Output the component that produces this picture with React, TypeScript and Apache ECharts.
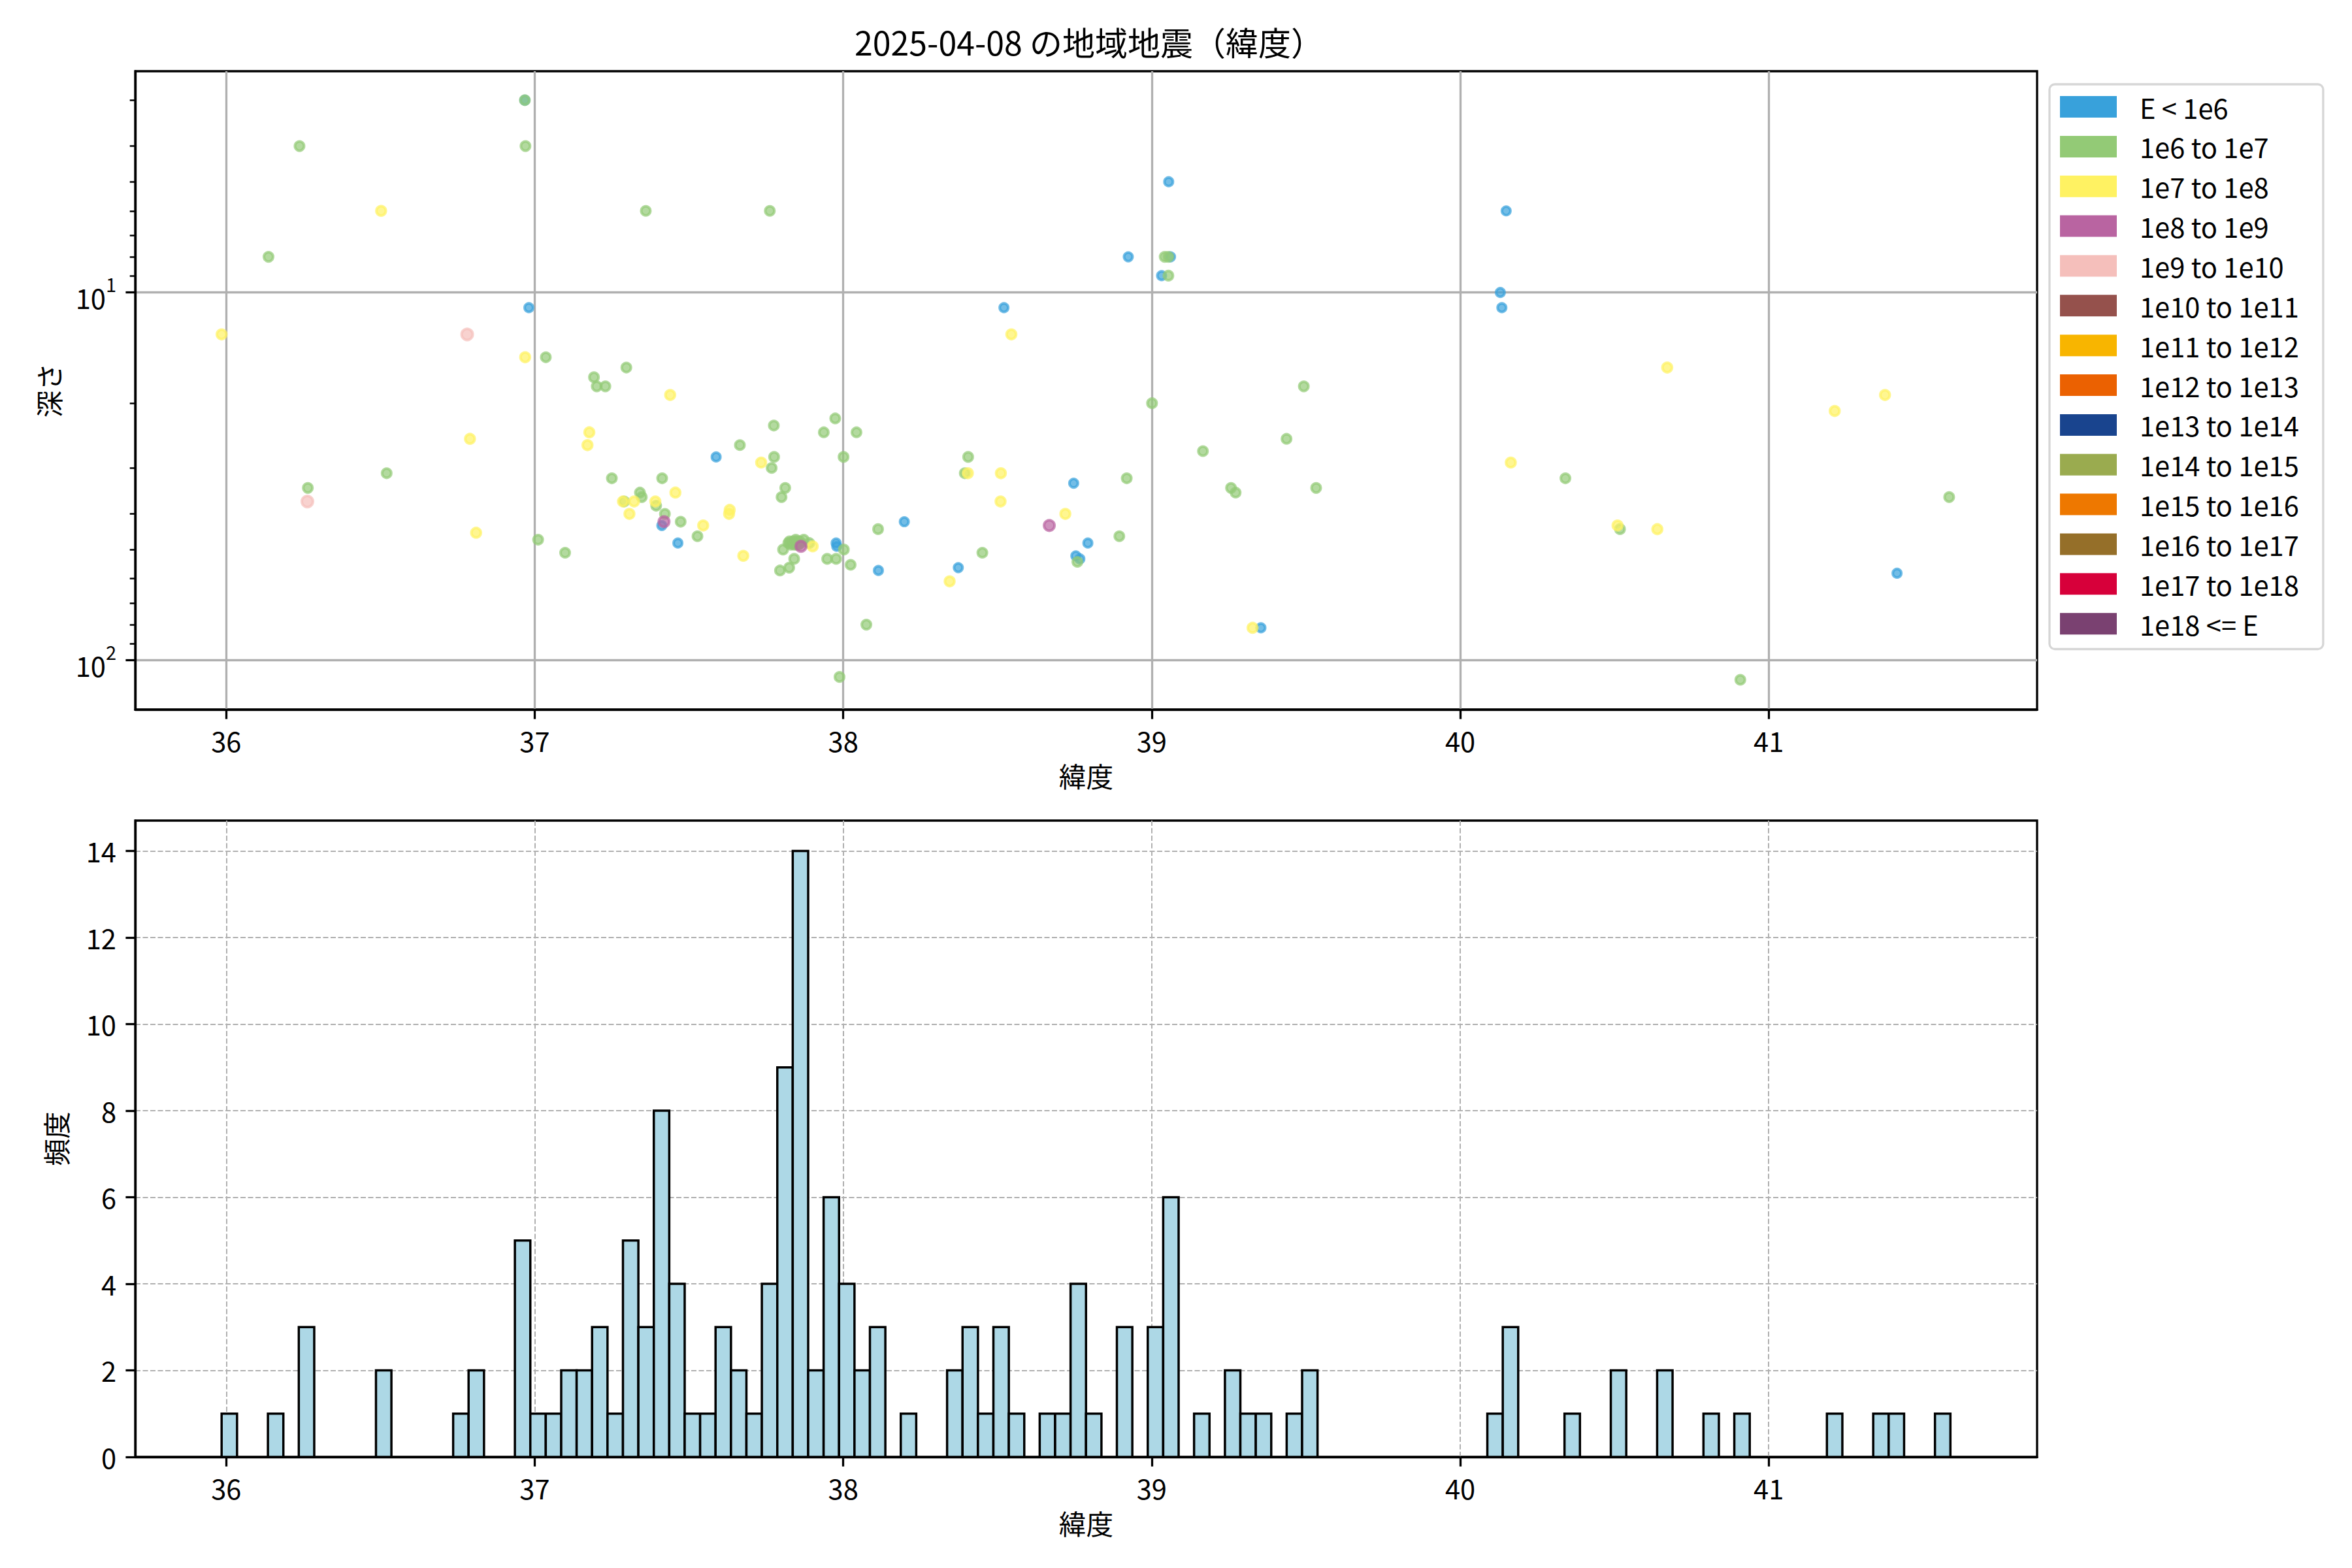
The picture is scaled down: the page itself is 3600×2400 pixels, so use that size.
import React, { useEffect, useRef } from "react";
import * as echarts from "echarts";

const FONT = '"Noto Sans CJK JP", "Noto Sans", sans-serif';
const FS = 41.67;

const TITLE = "2025-04-08 の地域地震（緯度）";
const X_NAME = "緯度";
const Y_NAME_TOP = "深さ";
const Y_NAME_BOTTOM = "頻度";

const CLASS_NAMES = [
  "E < 1e6", "1e6 to 1e7", "1e7 to 1e8", "1e8 to 1e9", "1e9 to 1e10",
  "1e10 to 1e11", "1e11 to 1e12", "1e12 to 1e13", "1e13 to 1e14", "1e14 to 1e15",
  "1e15 to 1e16", "1e16 to 1e17", "1e17 to 1e18", "1e18 <= E",
];
const CLASS_COLORS = [
  "#38a1db", "#93ca76", "#fff262", "#b964a1", "#f5bfbb",
  "#95514c", "#f8b500", "#eb6101", "#19448e", "#9aab4f",
  "#ee7800", "#956f29", "#d7003a", "#7a4171",
];
const CLASS_SIZES = [13, 14, 14.5, 16, 17, 18, 18, 18, 18, 18, 18, 18, 18, 18];

// [latitude, depth]
const E_LT_1E6 = [
  [36.968, 3.0], [36.981, 11], [37.412, 43], [37.464, 48], [37.588, 28],
  [37.977, 48], [37.979, 49], [38.114, 57], [38.198, 42], [38.373, 56],
  [38.521, 11], [38.747, 33], [38.754, 52], [38.767, 53], [38.793, 48],
  [38.924, 8], [39.032, 9], [39.055, 5], [39.061, 8], [39.354, 81.6],
  [40.13, 10], [40.135, 11], [40.149, 6], [41.416, 58],
];
const E_1E6_1E7 = [
  [36.137, 8], [36.2375, 4], [36.2645, 34], [36.52, 31], [36.968, 3.0], [36.97, 4],
  [37.011, 47], [37.036, 15], [37.0985, 51], [37.192, 17], [37.201, 18], [37.229, 18],
  [37.25, 32], [37.29, 37], [37.297, 16], [37.341, 35], [37.347, 36], [37.36, 6],
  [37.3936, 38], [37.413, 32], [37.422, 40], [37.473, 42], [37.5275, 46], [37.665, 26],
  [37.762, 6], [37.768, 30], [37.775, 23], [37.776, 28], [37.795, 57], [37.8, 36],
  [37.805, 50], [37.812, 34], [37.822, 48], [37.825, 56], [37.826, 47.5], [37.83, 48.5],
  [37.834, 48], [37.838, 47.5], [37.841, 48.5], [37.841, 53], [37.844, 48], [37.846, 47],
  [37.849, 48.5], [37.851, 48], [37.853, 47.5], [37.855, 48.5], [37.857, 48], [37.859, 47.5],
  [37.861, 48], [37.872, 47], [37.89, 48], [37.937, 24], [37.948, 53], [37.974, 22],
  [37.977, 53], [37.988, 111], [38.001, 28], [38.002, 50], [38.024, 55], [38.043, 24],
  [38.075, 80], [38.113, 44], [38.394, 31], [38.405, 28], [38.451, 51], [38.759, 54],
  [38.895, 46], [38.919, 32], [39.001, 20], [39.042, 8], [39.054, 8], [39.054, 9],
  [39.166, 27], [39.257, 34], [39.272, 35], [39.437, 25], [39.493, 18], [39.533, 34],
  [40.341, 32], [40.518, 44], [40.908, 113], [41.585, 36],
];
const E_1E7_1E8 = [
  [35.985, 13], [36.502, 6], [36.79, 25], [36.81, 45], [36.969, 15], [37.171, 26],
  [37.177, 24], [37.286, 37], [37.307, 40], [37.322, 37], [37.391, 37], [37.439, 19],
  [37.456, 35], [37.546, 43], [37.63, 40], [37.632, 39], [37.676, 52], [37.734, 29],
  [37.901, 49], [38.345, 61], [38.404, 31], [38.51, 37], [38.511, 31], [38.545, 13],
  [38.72, 40], [39.327, 81.6], [40.164, 29], [40.51, 43], [40.639, 44], [40.671, 16],
  [41.214, 21], [41.377, 19],
];
const E_1E8_1E9 = [[37.419, 42], [37.863, 49], [38.668, 43]];
const E_1E9_1E10 = [[36.263, 37], [36.781, 13]];
const SCATTER_BY_CLASS = [
  E_LT_1E6, E_1E6_1E7, E_1E7_1E8, E_1E8_1E9, E_1E9_1E10,
  [], [], [], [], [], [], [], [], [],
];

const LAT_RANGE = [35.705, 41.87];
const LAT_TICKS = [36, 37, 38, 39, 40, 41];
const DEPTH_RANGE = [2.503, 136.1];
const DEPTH_TICKS = [10, 100];
const DEPTH_MINOR_TICKS = [3, 4, 5, 6, 7, 8, 9, 20, 30, 40, 50, 60, 70, 80, 90];
const COUNT_MAX = 14.7;
const COUNT_TICKS = [0, 2, 4, 6, 8, 10, 12, 14];

const HIST_EDGES = [35.985, 41.589];
const HIST_COUNTS = [
  1, 0, 0, 1, 0, 3, 0, 0, 0, 0,
  2, 0, 0, 0, 0, 1, 2, 0, 0, 5,
  1, 1, 2, 2, 3, 1, 5, 3, 8, 4,
  1, 1, 3, 2, 1, 4, 9, 14, 2, 6,
  4, 2, 3, 0, 1, 0, 0, 2, 3, 1,
  3, 1, 0, 1, 1, 4, 1, 0, 3, 0,
  3, 6, 0, 1, 0, 2, 1, 1, 0, 1,
  2, 0, 0, 0, 0, 0, 0, 0, 0, 0,
  0, 0, 1, 3, 0, 0, 0, 1, 0, 0,
  2, 0, 0, 2, 0, 0, 1, 0, 1, 0,
  0, 0, 0, 0, 1, 0, 0, 1, 1, 0,
  0, 1,
];

function buildOption() {
  const binW = (HIST_EDGES[1] - HIST_EDGES[0]) / HIST_COUNTS.length;
  const histData = HIST_COUNTS.map((c, i) => [
    HIST_EDGES[0] + i * binW,
    HIST_EDGES[0] + (i + 1) * binW,
    c,
  ]).filter((d) => d[2] > 0);

  const axisLine = { show: true, lineStyle: { color: "#000", width: 3.3 } };
  const tick = { show: true, length: 14.6, lineStyle: { color: "#000", width: 3.3 } };
  const label = { fontSize: FS, color: "#000", fontFamily: FONT };
  const nameStyle = { fontSize: FS, color: "#000", fontFamily: FONT };
  const solidGrid = { show: true, lineStyle: { color: "#b0b0b0", width: 3.3 } };
  const dashGrid = { show: true, lineStyle: { color: "#b0b0b0", width: 2, type: [8, 3.5] } };

  const scatterSeries = CLASS_NAMES.map((name, i) => ({
    type: "scatter",
    name,
    xAxisIndex: 0,
    yAxisIndex: 0,
    data: SCATTER_BY_CLASS[i],
    symbol: "circle",
    symbolSize: CLASS_SIZES[i],
    itemStyle: {
      color: CLASS_COLORS[i],
      borderColor: CLASS_COLORS[i],
      borderWidth: 4,
      opacity: 0.7,
    },
    emphasis: { disabled: true },
    silent: true,
    z: 3,
  }));

  return {
    animation: false,
    backgroundColor: "#fff",
    textStyle: { fontFamily: FONT },
    title: {
      text: TITLE,
      left: 1662,
      top: 31,
      textAlign: "center",
      textStyle: { fontSize: 50, fontWeight: "normal", color: "#000", fontFamily: FONT, lineHeight: 54 },
    },
    legend: {
      orient: "vertical",
      left: 3137,
      top: 129,
      padding: [13.7, 37, 18, 16],
      itemWidth: 87,
      itemHeight: 33,
      itemGap: 19.2,
      icon: "rect",
      backgroundColor: "#fff",
      borderColor: "#d6d6d6",
      borderWidth: 3.3,
      borderRadius: 8,
      selectedMode: false,
      data: CLASS_NAMES,
      itemStyle: { opacity: 1, borderWidth: 0 },
      textStyle: { fontSize: FS, color: "#000", fontFamily: FONT, padding: [0, 0, 0, 30] },
    },
    grid: [
      { left: 207, top: 109, width: 2911, height: 977, show: true, borderColor: "#000", borderWidth: 3.3, backgroundColor: "transparent", containLabel: false },
      { left: 207, top: 1256, width: 2911, height: 974, show: true, borderColor: "#000", borderWidth: 3.3, backgroundColor: "transparent", containLabel: false },
    ],
    xAxis: [
      {
        type: "value", gridIndex: 0, min: LAT_RANGE[0], max: LAT_RANGE[1],
        name: X_NAME, nameLocation: "middle", nameGap: 80, nameTextStyle: nameStyle,
        axisLine, axisTick: { ...tick, customValues: LAT_TICKS },
        axisLabel: { ...label, margin: 26, customValues: LAT_TICKS, formatter: (v: number) => String(v) },
        splitLine: solidGrid,
      },
      {
        type: "value", gridIndex: 1, min: LAT_RANGE[0], max: LAT_RANGE[1],
        name: X_NAME, nameLocation: "middle", nameGap: 80, nameTextStyle: nameStyle,
        axisLine, axisTick: { ...tick, customValues: LAT_TICKS },
        axisLabel: { ...label, margin: 26, customValues: LAT_TICKS, formatter: (v: number) => String(v) },
        splitLine: dashGrid,
      },
    ],
    yAxis: [
      {
        type: "log", logBase: 10, gridIndex: 0, inverse: true, position: "left",
        min: DEPTH_RANGE[0], max: DEPTH_RANGE[1],
        name: Y_NAME_TOP, nameLocation: "middle", nameGap: 112, nameTextStyle: nameStyle,
        axisLine, axisTick: { ...tick, customValues: DEPTH_TICKS },
        axisLabel: {
          ...label, margin: 29, customValues: DEPTH_TICKS,
          formatter: (v: number) => "{b|10}{s|" + Math.round(Math.log10(v)) + "}",
          rich: {
            b: { fontSize: FS, color: "#000", fontFamily: FONT, lineHeight: 56, verticalAlign: "bottom" },
            s: { fontSize: 29, color: "#000", fontFamily: FONT, lineHeight: 29, verticalAlign: "top" },
          },
        },
        splitLine: solidGrid,
        minorTick: { show: false },
      },
      {
        type: "log", logBase: 10, gridIndex: 0, inverse: true, position: "left",
        min: DEPTH_RANGE[0], max: DEPTH_RANGE[1],
        axisLine: { show: false },
        axisLabel: { show: false },
        splitLine: { show: false },
        axisTick: { show: true, length: 8.3, lineStyle: { color: "#000", width: 2.5 }, customValues: DEPTH_MINOR_TICKS },
      },
      {
        type: "value", gridIndex: 1, min: 0, max: COUNT_MAX, interval: 2,
        name: Y_NAME_BOTTOM, nameLocation: "middle", nameGap: 101, nameTextStyle: nameStyle,
        axisLine, axisTick: { ...tick, customValues: COUNT_TICKS },
        axisLabel: { ...label, margin: 29, customValues: COUNT_TICKS },
        splitLine: dashGrid,
      },
    ],
    series: [
      ...scatterSeries,
      {
        type: "custom",
        name: "hist",
        xAxisIndex: 1,
        yAxisIndex: 2,
        data: histData,
        encode: { x: [0, 1], y: 2 },
        silent: true,
        z: 3,
        renderItem: (params: any, api: any) => {
          const p0 = api.coord([api.value(0), api.value(2)]);
          const p1 = api.coord([api.value(1), 0]);
          return {
            type: "rect",
            shape: { x: p0[0], y: p0[1], width: p1[0] - p0[0], height: p1[1] - p0[1] },
            style: { fill: "#add8e6", stroke: "#000", lineWidth: 3.5 },
          };
        },
      },
    ],
  };
}

export default function App() {
  const ref = useRef<HTMLDivElement>(null);
  useEffect(() => {
    if (!ref.current) return;
    const chart = echarts.init(ref.current, undefined, { renderer: "svg", width: 3600, height: 2400 });
    chart.setOption(buildOption() as any);
    return () => chart.dispose();
  }, []);
  return (
    <div
      ref={ref}
      style={{ position: "fixed", left: 0, top: 0, width: 3600, height: 2400, background: "#fff" }}
    />
  );
}
